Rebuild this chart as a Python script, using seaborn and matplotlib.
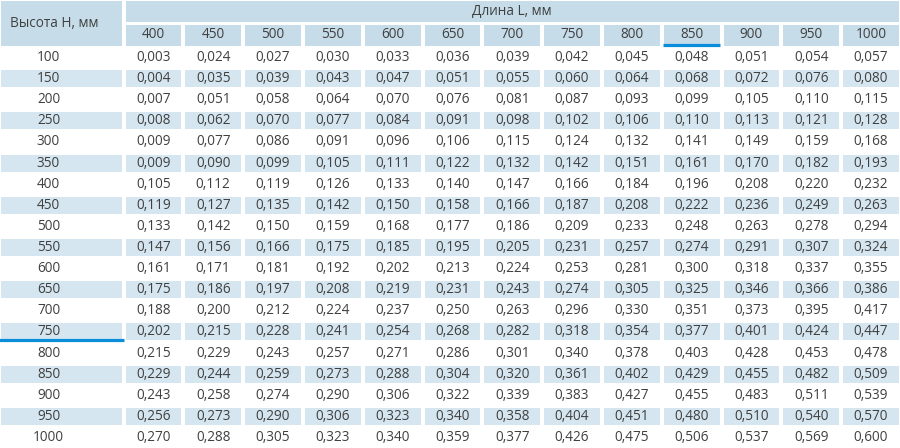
import numpy as np
import pandas as pd
import seaborn as sns
import matplotlib.pyplot as plt
from matplotlib.colors import ListedColormap

# Table data
heights = [100, 150, 200, 250, 300, 350, 400, 450, 500, 550,
           600, 650, 700, 750, 800, 850, 900, 950, 1000]
lengths = [400, 450, 500, 550, 600, 650, 700, 750, 800, 850, 900, 950, 1000]
values = [
    [0.003, 0.024, 0.027, 0.030, 0.033, 0.036, 0.039, 0.042, 0.045, 0.048, 0.051, 0.054, 0.057],
    [0.004, 0.035, 0.039, 0.043, 0.047, 0.051, 0.055, 0.060, 0.064, 0.068, 0.072, 0.076, 0.080],
    [0.007, 0.051, 0.058, 0.064, 0.070, 0.076, 0.081, 0.087, 0.093, 0.099, 0.105, 0.110, 0.115],
    [0.008, 0.062, 0.070, 0.077, 0.084, 0.091, 0.098, 0.102, 0.106, 0.110, 0.113, 0.121, 0.128],
    [0.009, 0.077, 0.086, 0.091, 0.096, 0.106, 0.115, 0.124, 0.132, 0.141, 0.149, 0.159, 0.168],
    [0.009, 0.090, 0.099, 0.105, 0.111, 0.122, 0.132, 0.142, 0.151, 0.161, 0.170, 0.182, 0.193],
    [0.105, 0.112, 0.119, 0.126, 0.133, 0.140, 0.147, 0.166, 0.184, 0.196, 0.208, 0.220, 0.232],
    [0.119, 0.127, 0.135, 0.142, 0.150, 0.158, 0.166, 0.187, 0.208, 0.222, 0.236, 0.249, 0.263],
    [0.133, 0.142, 0.150, 0.159, 0.168, 0.177, 0.186, 0.209, 0.233, 0.248, 0.263, 0.278, 0.294],
    [0.147, 0.156, 0.166, 0.175, 0.185, 0.195, 0.205, 0.231, 0.257, 0.274, 0.291, 0.307, 0.324],
    [0.161, 0.171, 0.181, 0.192, 0.202, 0.213, 0.224, 0.253, 0.281, 0.300, 0.318, 0.337, 0.355],
    [0.175, 0.186, 0.197, 0.208, 0.219, 0.231, 0.243, 0.274, 0.305, 0.325, 0.346, 0.366, 0.386],
    [0.188, 0.200, 0.212, 0.224, 0.237, 0.250, 0.263, 0.296, 0.330, 0.351, 0.373, 0.395, 0.417],
    [0.202, 0.215, 0.228, 0.241, 0.254, 0.268, 0.282, 0.318, 0.354, 0.377, 0.401, 0.424, 0.447],
    [0.215, 0.229, 0.243, 0.257, 0.271, 0.286, 0.301, 0.340, 0.378, 0.403, 0.428, 0.453, 0.478],
    [0.229, 0.244, 0.259, 0.273, 0.288, 0.304, 0.320, 0.361, 0.402, 0.429, 0.455, 0.482, 0.509],
    [0.243, 0.258, 0.274, 0.290, 0.306, 0.322, 0.339, 0.383, 0.427, 0.455, 0.483, 0.511, 0.539],
    [0.256, 0.273, 0.290, 0.306, 0.323, 0.340, 0.358, 0.404, 0.451, 0.480, 0.510, 0.540, 0.570],
    [0.270, 0.288, 0.305, 0.323, 0.340, 0.359, 0.377, 0.426, 0.475, 0.506, 0.537, 0.569, 0.600],
]
row_title = "Высота Н, мм"
col_title = "Длина L, мм"
marked_length = 850
marked_height = 750

# Colours
header_color = "#c6dce9"
stripe_color = "#d5e6f0"
text_color = "#404040"
accent = "#0a8edc"

sns.set_theme(style="white")
plt.rcParams['font.family'] = ['Open Sans', 'DejaVu Sans']

W, H = 900, 448
fig = plt.figure(figsize=(W / 100, H / 100), dpi=100)


def px_axes(x, y, w, h):
    # axes placed in pixel coordinates measured from the top-left corner
    return fig.add_axes([x / W, 1 - (y + h) / H, w / W, h / H])


cell_kw = dict(cbar=False, xticklabels=False, yticklabels=False,
               linewidths=1.5, linecolor="white", vmin=0, vmax=1)
text_kw = dict(color=text_color, fontsize=9.8)

df = pd.DataFrame(values, index=heights, columns=lengths)
stripes = np.array([[i % 2] * len(lengths) for i in range(len(heights))])
stripe_cmap = ListedColormap(["white", stripe_color])
header_cmap = ListedColormap([header_color, header_color])

# ----------------------------
# Body of the table
# ----------------------------
ax_body = px_axes(123.5, 47, 777.5, 401)
labels = df.map(lambda v: f"{v:.3f}".replace(".", ","))
sns.heatmap(stripes, ax=ax_body, cmap=stripe_cmap, annot=labels.values, fmt="",
            annot_kws=text_kw, **cell_kw)

# ----------------------------
# Left column with heights
# ----------------------------
ax_left = px_axes(-1.5, 47, 125, 401)
left_stripes = stripes[:, :1]
height_labels = np.array([[str(h)] for h in heights])
sns.heatmap(left_stripes, ax=ax_left, cmap=stripe_cmap, annot=height_labels, fmt="",
            annot_kws=text_kw, **cell_kw)
for t in ax_left.texts:
    t.set_x(0.4)
mi = heights.index(marked_height)
ax_left.plot([0.0, 1.0], [mi + 0.9, mi + 0.9], color=accent, lw=2.3,
             solid_capstyle="butt", clip_on=False)

# ----------------------------
# Header: lengths row
# ----------------------------
ax_len = px_axes(123.5, 23, 777.5, 25)
len_labels = np.array([[str(l) for l in lengths]])
sns.heatmap(np.zeros((1, len(lengths))), ax=ax_len, cmap=header_cmap,
            annot=len_labels, fmt="", annot_kws=text_kw, **cell_kw)
for t in ax_len.texts:
    t.set_y(0.45)
mj = lengths.index(marked_length)
ax_len.plot([mj + 0.02, mj + 0.98], [0.9, 0.9], color=accent, lw=2.3,
            solid_capstyle="butt")

# ----------------------------
# Header: merged title cells
# ----------------------------
ax_top = px_axes(123.5, -1, 777.5, 25)
sns.heatmap(np.zeros((1, 1)), ax=ax_top, cmap=header_cmap,
            annot=np.array([[col_title]]), fmt="", annot_kws=text_kw, **cell_kw)

ax_corner = px_axes(-1.5, -1, 125, 49)
sns.heatmap(np.zeros((1, 1)), ax=ax_corner, cmap=header_cmap, **cell_kw)
ax_corner.text(0.09, 0.5, row_title, ha="left", va="center", **text_kw)

plt.savefig("out.png", dpi=100)
